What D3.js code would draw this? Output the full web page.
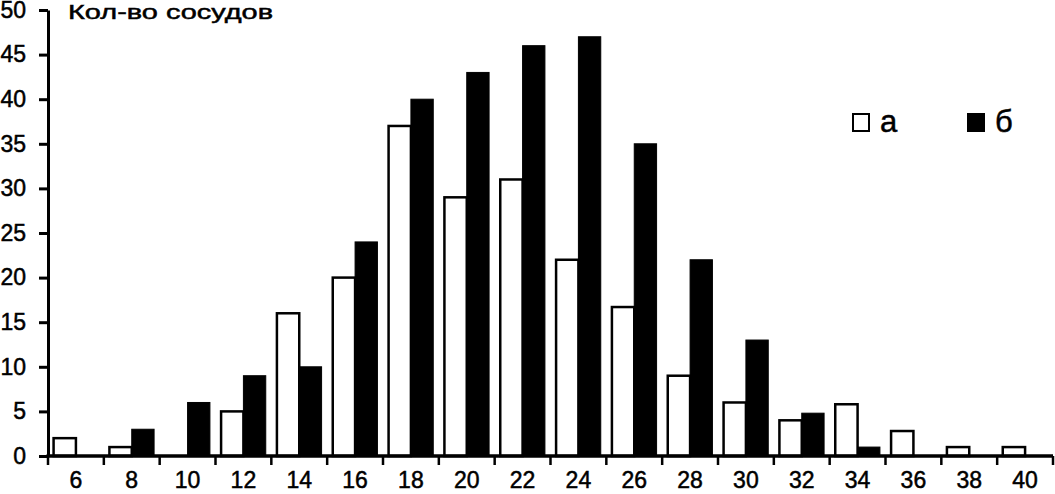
<!DOCTYPE html>
<html><head><meta charset="utf-8">
<script src="https://cdn.jsdelivr.net/npm/d3@7/dist/d3.min.js"></script>
<style>
html,body{margin:0;padding:0;background:#fff;}
svg text{font-family:"Liberation Sans",Arial,sans-serif;fill:#000;stroke:#000;stroke-width:0.5px;}
</style></head>
<body>
<svg id="chart" width="1055" height="494"></svg>
<script>
const categories = ["6","8","10","12","14","16","18","20","22","24","26","28","30","32","34","36","38","40"];
const seriesA = [2,1,0,5,16,20,37,29,31,22,16.7,9,6,4,5.8,2.8,1,1];
const seriesB = [0,3,6,9,10,24,40,43,46,47,35,22,13,4.8,1,0,0,0];
const yTicks = [0,5,10,15,20,25,30,35,40,45,50];
const seriesNames = ["а","б"];
const yTitle = "Кол-во сосудов";

(function(){
const svg = d3.select("#chart");
const mLeft = 48, mRight = 1053, mTop = 10, mBottom = 456;

const x0 = d3.scaleBand().domain(categories).range([mLeft, mRight]).paddingInner(0.2).paddingOuter(0.1);
const x1 = d3.scaleBand().domain([0,1]).range([0, x0.bandwidth()]);
const y = d3.scaleLinear().domain([0,50]).range([mBottom, mTop]);
const edge = d3.scaleLinear().domain([0, categories.length]).range([mLeft, mRight]);

const data = categories.map((c,i)=>({c, vals:[seriesA[i], seriesB[i]]}));

const g = svg.append("g");
data.forEach(d=>{
  d.vals.forEach((v,k)=>{
    if (v <= 0) return;
    g.append("rect")
      .attr("x", x0(d.c) + x1(k))
      .attr("y", y(v))
      .attr("width", x1.bandwidth())
      .attr("height", y(0) - y(v))
      .attr("fill", k===0 ? "#fff" : "#000")
      .attr("stroke", "#000")
      .attr("stroke-width", k===0 ? 2.5 : 1);
  });
});

const yAxis = svg.append("g").attr("transform", `translate(${mLeft},0)`)
  .call(d3.axisLeft(y).tickValues(yTicks).tickSize(9).tickPadding(13).tickSizeOuter(0));
yAxis.select(".domain").attr("stroke-width", 3);
yAxis.selectAll(".tick line").attr("stroke-width", 3);
yAxis.selectAll(".tick text").attr("font-size", 23).attr("font-family", "Liberation Sans, Arial, sans-serif");

const xg = svg.append("g");
xg.append("line").attr("x1", mLeft-1.5).attr("x2", mRight).attr("y1", mBottom).attr("y2", mBottom)
  .attr("stroke", "#000").attr("stroke-width", 3.5);
xg.selectAll(".bt").data(d3.range(categories.length+1)).join("line")
  .attr("x1", i=>edge(i)).attr("x2", i=>edge(i))
  .attr("y1", mBottom).attr("y2", mBottom+9)
  .attr("stroke", "#000").attr("stroke-width", 2.5);

const xAxis = svg.append("g").attr("transform", `translate(0,${mBottom})`)
  .call(d3.axisBottom(x0).tickSize(0).tickPadding(16));
xAxis.select(".domain").remove();
xAxis.selectAll(".tick text").attr("font-size", 23).attr("font-family", "Liberation Sans, Arial, sans-serif");

svg.append("text").attr("x", 68).attr("y", 19).attr("font-size", 21)
  .attr("textLength", 205).attr("lengthAdjust", "spacingAndGlyphs").text(yTitle);

const legX = [852, 967];
seriesNames.forEach((n,k)=>{
  svg.append("rect").attr("x", legX[k]+1).attr("y", 114).attr("width", 16).attr("height", 17)
    .attr("fill", k===0 ? "#fff" : "#000").attr("stroke", "#000").attr("stroke-width", 2);
  svg.append("text").attr("x", legX[k]+28).attr("y", 132).attr("font-size", 31).text(n);
});
})();
</script>
</body></html>
